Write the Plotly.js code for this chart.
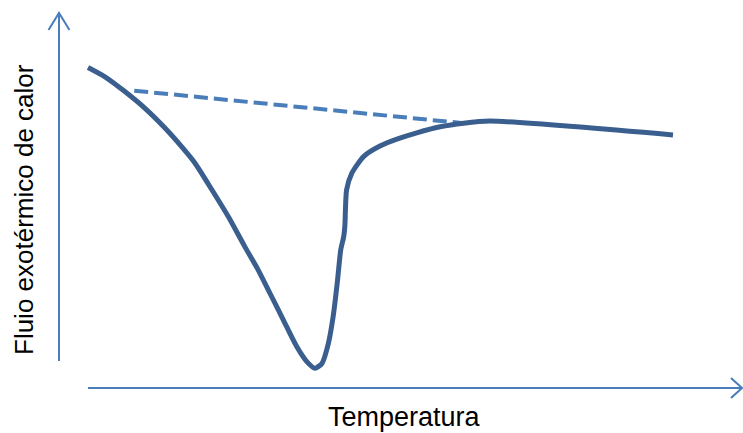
<!DOCTYPE html>
<html>
<head>
<meta charset="utf-8">
<script src="https://cdn.plot.ly/plotly-3.0.1.min.js"></script>
<style>html,body{margin:0;padding:0;background:#fff;}#chart{width:743px;height:433px;}</style>
</head>
<body>
<div id="chart"></div>
<script>
// Temperature (arbitrary units) and exothermic heat flow (arbitrary units)
const temperatura = [0, 2.9, 6.3, 9.7, 13.2, 16.0, 18.3, 21.2, 24.0, 26.8, 29.1, 31.1, 33.4, 35.7, 37.4, 38.8, 40.0, 41.1, 41.9, 42.6, 43.2, 43.7, 43.9, 44.2, 45.1, 47.1, 49.9, 52.8, 56.2, 60.2, 64.2, 68.7, 100];
const flujo =       [100, 96.9, 92.0, 86.5, 79.8, 73.7, 68.2, 59.3, 50.4, 40.5, 32.7, 25.0, 16.1, 7.2, 2.3, 0.1, 1.7, 8.4, 17.2, 28.3, 39.4, 43.7, 47.1, 59.3, 64.9, 70.4, 73.9, 76.2, 78.3, 80.3, 81.5, 82.2, 77.6];
// Extrapolated baseline (dashed)
const baseT = [7.9, 64.2];
const baseF = [92.3, 81.5];

const xTitle = "Temperatura";
const yTitle = "Fluio exotérmico de calor";

const W = 743, H = 433;
const px = v => v / W;
const py = v => 1 - v / H;
const axisColor = "#4A7EBB";

const traces = [
  {x: baseT, y: baseF, mode: "lines", line: {color: "#4A7EBB", width: 4, dash: "14px,6px"}, hoverinfo: "skip"},
  {x: temperatura, y: flujo, mode: "lines", line: {color: "#3A5F8E", width: 5, shape: "spline", smoothing: 0.6}, hoverinfo: "skip"}
];

const shapes = [
  // y axis arrow
  {type: "line", xref: "paper", yref: "paper", x0: px(59), x1: px(59), y0: py(361), y1: py(13), line: {color: axisColor, width: 2}},
  {type: "path", xref: "paper", yref: "paper",
   path: `M${px(48.5)},${py(30)} L${px(59)},${py(13)} L${px(69.5)},${py(30)}`, line: {color: axisColor, width: 2}},
  // x axis arrow
  {type: "line", xref: "paper", yref: "paper", x0: px(88), x1: px(741), y0: py(388), y1: py(388), line: {color: axisColor, width: 2}},
  {type: "path", xref: "paper", yref: "paper",
   path: `M${px(731)},${py(378)} L${px(742)},${py(388)} L${px(731)},${py(398)}`, line: {color: axisColor, width: 2}}
];

const annotations = [
  {text: xTitle, xref: "paper", yref: "paper", x: px(404), y: py(417), showarrow: false,
   font: {family: "Liberation Sans, Arial, sans-serif", size: 27, color: "#000"}, xanchor: "center", yanchor: "middle"},
  {text: yTitle, xref: "paper", yref: "paper", x: px(24), y: py(210), showarrow: false, textangle: -90,
   font: {family: "Liberation Sans, Arial, sans-serif", size: 26, color: "#000"}, xanchor: "center", yanchor: "middle"}
];

const layout = {
  width: W, height: H,
  margin: {l: 0, r: 0, t: 0, b: 0},
  paper_bgcolor: "#fff", plot_bgcolor: "#fff",
  showlegend: false,
  xaxis: {range: [-88 / 5.85, (W - 88) / 5.85], visible: false, fixedrange: true},
  yaxis: {range: [(368.5 - H) / 3.01, 368.5 / 3.01], visible: false, fixedrange: true},
  shapes: shapes,
  annotations: annotations
};

Plotly.newPlot("chart", traces, layout, {staticPlot: true, displayModeBar: false});
</script>
</body>
</html>
